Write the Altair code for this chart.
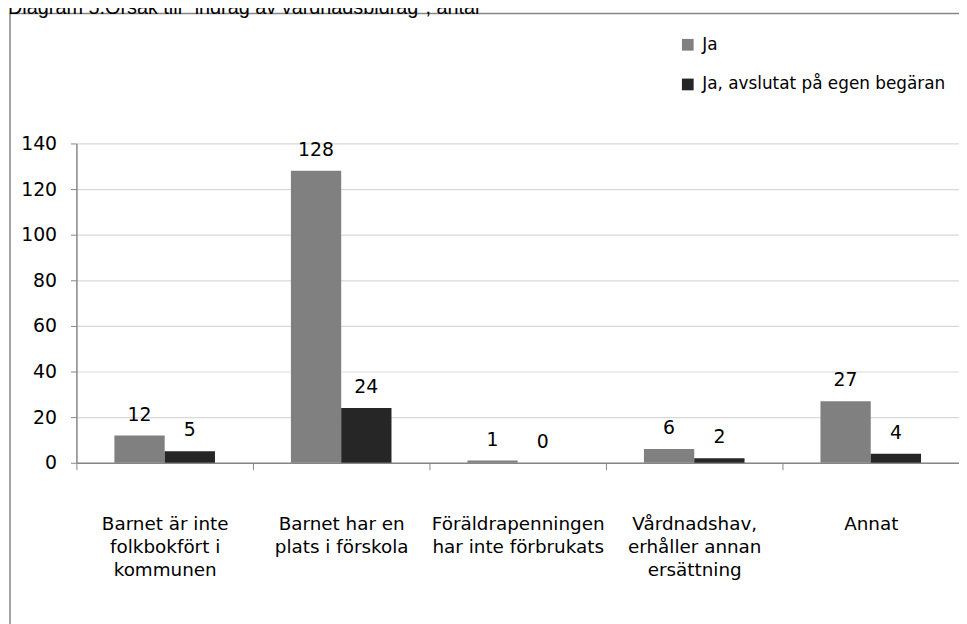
import altair as alt
import pandas as pd

categories = [
    "Barnet är inte|folkbokfört i|kommunen",
    "Barnet har en|plats i förskola",
    "Föräldrapenningen|har inte förbrukats",
    "Vårdnadshav,|erhåller annan|ersättning",
    "Annat",
]
series = ["Ja", "Ja, avslutat på egen begäran"]
ja = [12, 128, 1, 6, 27]
ja_avslutat = [5, 24, 0, 2, 4]
colors = ["#808080", "#262626"]
y_ticks = [0, 20, 40, 60, 80, 100, 120, 140]
title_text = 'Diagram 5.Orsak till "indrag av vårdnadsbidrag", antal'

rows = []
for c, a, b in zip(categories, ja, ja_avslutat):
    rows.append({"kategori": c, "serie": series[0], "antal": a})
    rows.append({"kategori": c, "serie": series[1], "antal": b})
df = pd.DataFrame(rows)

FONT = "DejaVu Sans"

x_enc = alt.X(
    "kategori:N",
    sort=categories,
    scale=alt.Scale(paddingInner=0, paddingOuter=0),
    axis=alt.Axis(
        title=None,
        labelAngle=0,
        labelExpr="split(datum.label, '|')",
        labelFont=FONT,
        labelFontSize=18.5,
        labelColor="#000000",
        labelLineHeight=23.5,
        labelPadding=45,
        labelBaseline="top",
        labelLimit=0,
        tickBand="extent",
        tickSize=7,
        tickColor="#868686",
        domainColor="#868686",
        domainWidth=1.5,
        grid=False,
    ),
)
xoff_enc = alt.XOffset(
    "serie:N",
    sort=series,
    scale=alt.Scale(domain=series, paddingInner=0, paddingOuter=0.755),
)
y_enc = alt.Y(
    "antal:Q",
    scale=alt.Scale(domain=[0, 140], nice=False),
    axis=alt.Axis(
        title=None,
        values=y_ticks,
        labelFont=FONT,
        labelFontSize=19,
        labelColor="#000000",
        labelPadding=14,
        tickSize=6,
        tickColor="#868686",
        domainColor="#868686",
        domainWidth=1.5,
        gridColor="#d9d9d9",
        gridWidth=1.2,
    ),
)

bars = alt.Chart(df).mark_bar().encode(
    x=x_enc,
    xOffset=xoff_enc,
    y=y_enc,
    color=alt.Color(
        "serie:N",
        sort=series,
        scale=alt.Scale(domain=series, range=colors),
        legend=alt.Legend(
            title=None,
            orient="none",
            legendX=608,
            legendY=-108,
            symbolType="square",
            symbolSize=140,
            symbolStrokeWidth=0,
            labelFont=FONT,
            labelFontSize=17,
            labelColor="#000000",
            labelOffset=6,
            labelLimit=0,
            rowPadding=22,
            padding=0,
        ),
    ),
)

labels = alt.Chart(df).mark_text(
    font=FONT, fontSize=19, color="#000000", baseline="alphabetic", dy=-15
).encode(
    x=alt.X("kategori:N", sort=categories),
    xOffset=xoff_enc,
    y="antal:Q",
    text="antal:Q",
)

frame = alt.Chart(alt.Data(values=[{"f": 1}])).mark_rect(
    fill=None, stroke="#868686", strokeWidth=1.5
).encode(
    x=alt.value(-67), x2=alt.value(1100), y=alt.value(-131), y2=alt.value(800)
)

title = alt.Chart(alt.Data(values=[{"t": title_text}])).mark_text(
    font="Liberation Sans", fontSize=20, color="#000000", align="left", baseline="alphabetic"
).encode(
    x=alt.value(-69), y=alt.value(-131), text="t:N"
)

chart = (
    alt.layer(frame, bars, labels, title)
    .properties(
        width=890,
        height=322,
        padding={"left": 69, "top": 134, "right": 0, "bottom": 160},
        autosize=alt.AutoSizeParams(type="none"),
        background="#ffffff",
    )
    .configure_view(stroke=None)
)

chart.save("out.html", embed_options={"renderer": "svg", "actions": False})
